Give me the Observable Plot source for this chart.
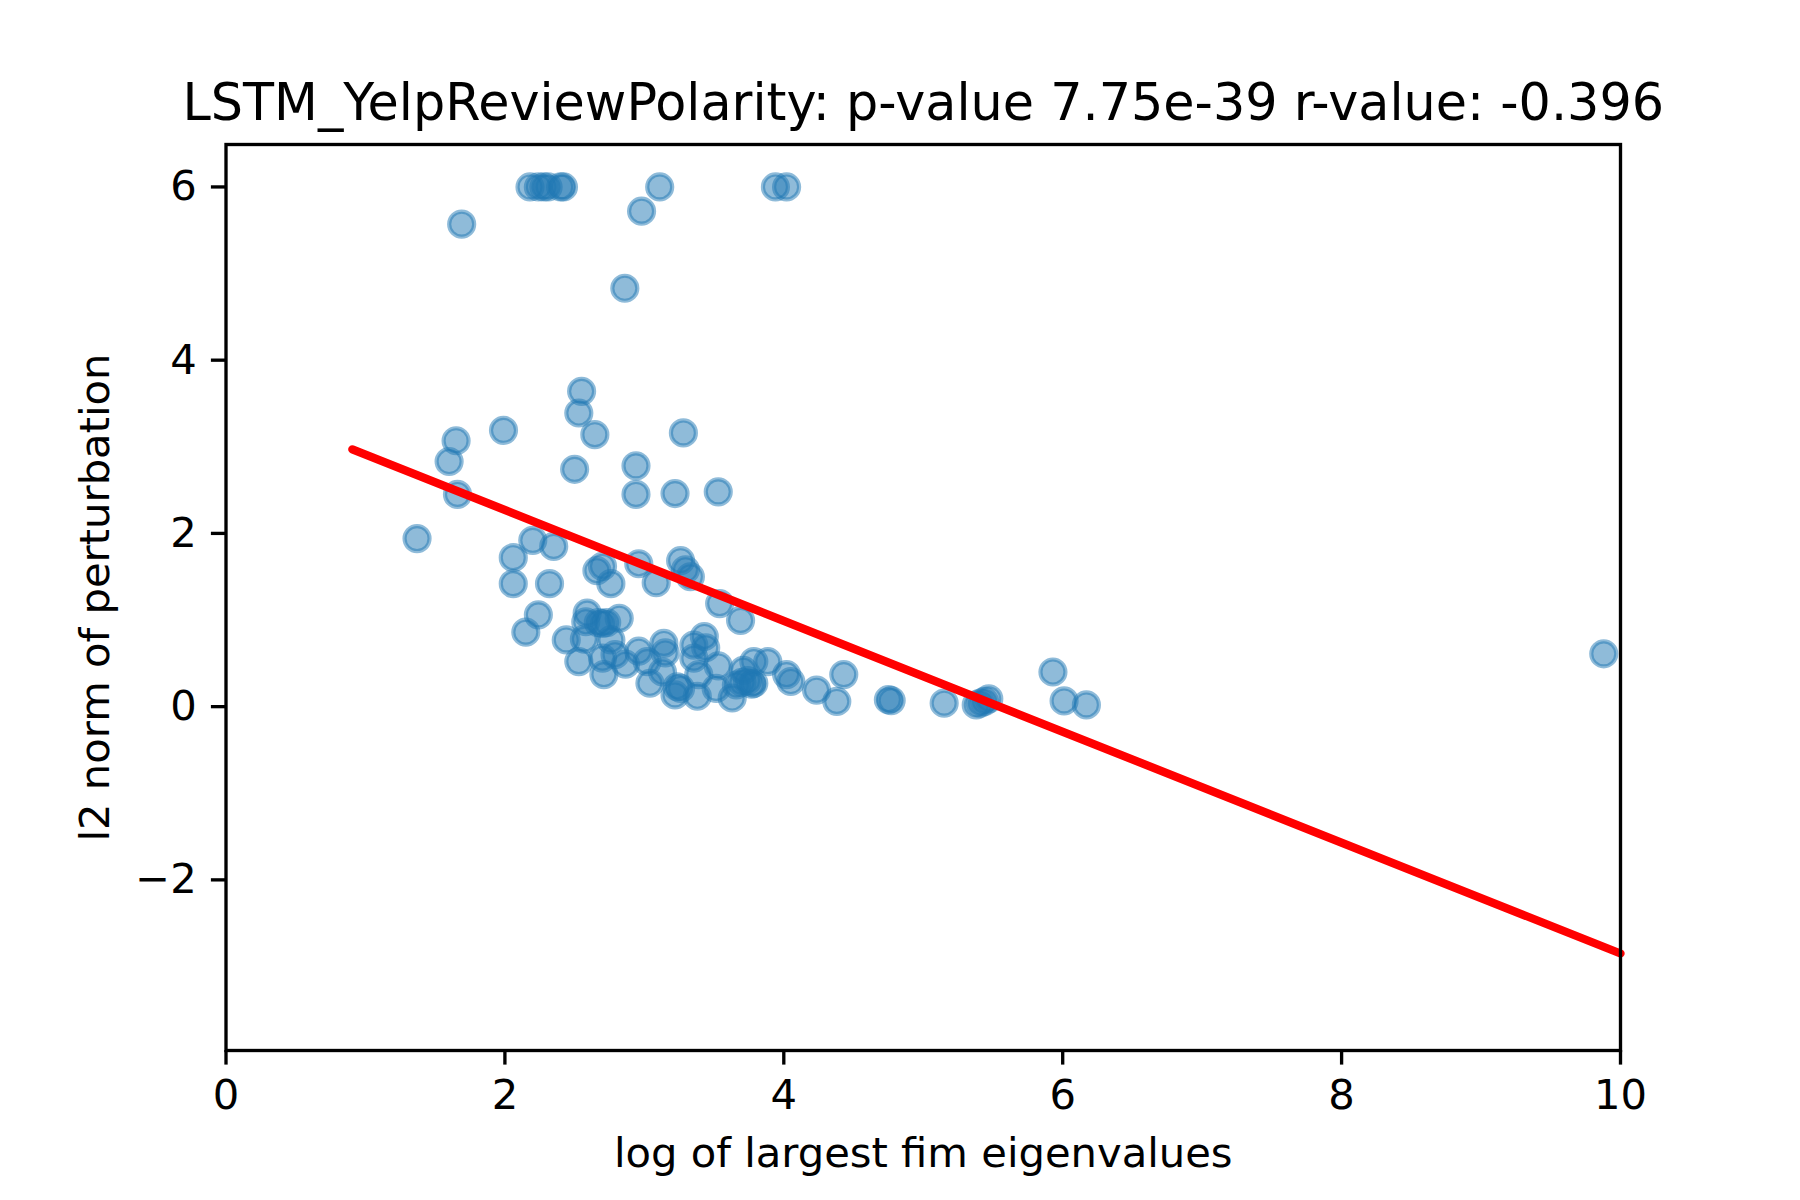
<!DOCTYPE html>
<html>
<head>
<meta charset="utf-8">
<script src="https://cdn.jsdelivr.net/npm/d3@7"></script>
<script src="https://cdn.jsdelivr.net/npm/@observablehq/plot@0.6"></script>
<style>
  html, body { margin: 0; padding: 0; background: white; }
  #chart svg { display: block; }
</style>
</head>
<body>
<div id="chart"></div>
<script>
// Scatter values: log of largest FIM eigenvalue (x) vs l2 norm of perturbation (y)
const xs = [
  2.18, 2.24, 2.28, 2.31, 2.40, 2.42, 3.11, 3.94, 4.02,
  1.69, 2.98, 2.86,
  2.55, 2.53, 2.645, 1.99, 3.28, 1.65,
  1.60, 1.66, 1.37,
  2.50, 2.94, 2.94, 3.22, 3.53,
  2.20, 2.35, 2.06, 2.06, 2.32,
  2.66, 2.70, 2.76, 2.96, 3.085,
  3.26, 3.295, 3.33,
  3.54, 3.69,
  2.24, 2.15,
  2.59, 2.58, 2.67, 2.70, 2.73, 2.82,
  2.44, 2.57, 2.76,
  2.53, 2.70, 2.71, 2.79, 2.865, 2.96, 3.02, 3.13, 3.14, 3.15, 3.04,
  3.235, 3.26, 3.22, 3.38,
  3.355, 3.43, 3.44, 3.355, 3.39,
  3.515, 3.53, 3.63,
  3.66, 3.70, 3.74, 3.77,
  3.71, 3.785, 3.885, 3.785,
  4.02, 4.05, 4.235, 4.38, 4.43,
  4.75, 4.77,
  5.15, 5.38, 5.41, 5.44, 5.47,
  5.93, 6.01, 6.17,
  9.88
];
const ys = [
  6, 6, 6, 6, 6, 6, 6, 6, 6,
  5.57, 5.72, 4.83,
  3.64, 3.39, 3.14, 3.19, 3.16, 3.07,
  2.83, 2.45, 1.94,
  2.74, 2.78, 2.45, 2.46, 2.48,
  1.92, 1.85, 1.72, 1.42, 1.42,
  1.57, 1.62, 1.42, 1.65, 1.43,
  1.685, 1.58, 1.50,
  1.19, 0.995,
  1.06, 0.86,
  1.08, 0.98, 0.97, 0.96, 0.97, 1.02,
  0.77, 0.78, 0.77,
  0.52, 0.56, 0.37, 0.60, 0.49, 0.64, 0.52, 0.40, 0.73, 0.62, 0.27,
  0.23, 0.21, 0.135, 0.12,
  0.71, 0.81, 0.68, 0.56, 0.37,
  0.21, 0.47, 0.10,
  0.25, 0.28, 0.30, 0.26,
  0.42, 0.52, 0.52, 0.27,
  0.37, 0.29, 0.19, 0.06, 0.37,
  0.08, 0.07,
  0.04, 0.02, 0.04, 0.06, 0.09,
  0.40, 0.066, 0.02,
  0.61
];
// Regression line end points
const fitX = [0.906, 10];
const fitY = [2.97, -2.85];
// Axis ticks
const xTicks = [0, 2, 4, 6, 8, 10];
const yTicks = [-2, 0, 2, 4, 6];

const titleText = "LSTM_YelpReviewPolarity: p-value 7.75e-39 r-value: -0.396";
const xLabel = "log of largest fim eigenvalues";
const yLabel = "l2 norm of perturbation";

const points = xs.map((x, i) => ({x, y: ys[i]}));
const fit = fitX.map((x, i) => ({x, y: fitY[i]}));

const fmt = d => (d < 0 ? "\u2212" + Math.abs(d) : String(d));

const chart = Plot.plot({
  width: 1800,
  height: 1200,
  marginLeft: 225.5,
  marginRight: 180,
  marginTop: 144,
  marginBottom: 150,
  style: {fontFamily: "DejaVu Sans", fontSize: "41.7px", background: "white", color: "black", overflow: "visible"},
  x: {domain: [0, 10]},
  y: {domain: [-3.97, 6.49]},
  marks: [
    Plot.dot(points, {x: "x", y: "y", r: 12.5, fill: "#1f77b4", fillOpacity: 0.5, stroke: "#1f77b4", strokeOpacity: 0.5, strokeWidth: 4.17}),
    Plot.line(fit, {x: "x", y: "y", stroke: "#ff0000", strokeWidth: 8.3}),
    Plot.frame({stroke: "black", strokeWidth: 3.33}),
    Plot.axisX({ticks: xTicks, tickFormat: fmt, tickSize: 14.6, tickPadding: 14.6, strokeWidth: 3.33, label: null, fontSize: 41.7, fill: "black"}),
    Plot.axisY({ticks: yTicks, tickFormat: fmt, tickSize: 14.6, tickPadding: 14.6, strokeWidth: 3.33, label: null, fontSize: 41.7, fill: "black"}),
    Plot.text([titleText], {frameAnchor: "top", textAnchor: "middle", dy: -25, lineAnchor: "bottom", fontSize: 50.8, fill: "black"}),
    Plot.text([xLabel], {frameAnchor: "bottom", textAnchor: "middle", dy: 103, lineAnchor: "middle", fontSize: 41.7, fill: "black"}),
    Plot.text([yLabel], {frameAnchor: "left", textAnchor: "middle", dx: -130, rotate: -90, lineAnchor: "middle", fontSize: 41.7, fill: "black"})
  ]
});
document.getElementById("chart").appendChild(chart);
</script>
</body>
</html>
